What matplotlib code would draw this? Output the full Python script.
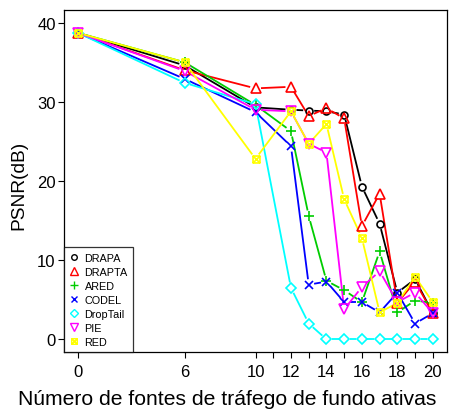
import numpy as np
import matplotlib
matplotlib.use("Agg")
import matplotlib.pyplot as plt
from matplotlib.path import Path
from matplotlib.lines import Line2D

plt.rcParams['font.family'] = ['Liberation Sans', 'DejaVu Sans']

# dados
fontes = [0, 6, 10, 12, 13, 14, 15, 16, 17, 18, 19, 20]
drapa = [38.7, 34.6, 29.3, 29.0, 28.9, 28.8, 28.4, 19.3, 14.6, 5.9, 7.6, 3.3]
drapta = [38.7, 34.0, 31.7, 31.9, 28.2, 29.2, 27.9, 14.3, 18.4, 4.6, 7.3, 3.3]
ared = [38.7, 35.0, 29.6, 26.3, 15.6, 7.4, 6.2, 4.7, 11.1, 3.4, 4.9, 4.6]
codel = [38.7, 32.9, 28.7, 24.4, 6.9, 7.3, 4.7, 4.7, 3.4, 5.9, 2.0, 3.3]
droptail = [38.7, 32.4, 29.7, 6.5, 2.0, 0.0, 0.0, 0.0, 0.0, 0.0, 0.0, 0.0]
pie = [38.7, 33.9, 29.0, 28.8, 24.7, 23.6, 3.8, 6.6, 8.6, 4.7, 5.9, 3.3]
red = [38.7, 35.0, 22.8, 28.8, 24.7, 27.2, 17.7, 12.8, 3.4, 4.6, 7.9, 4.7]

nomes = ['DRAPA', 'DRAPTA', 'ARED', 'CODEL', 'DropTail', 'PIE', 'RED']
series = [drapa, drapta, ared, codel, droptail, pie, red]
cores = ['black', '#FF0000', '#00CD00', '#0000FF', '#00FFFF', '#FF00FF', '#FFFF00']

xticks = [0, 6, 10, 11, 12, 13, 14, 15, 16, 17, 18, 19, 20]
xticklabels = ['0', '6', '10', '', '12', '', '14', '', '16', '', '18', '', '20']

# quadrado com X (pch 7 do R)
box_x = Path([(-1, -1), (1, -1), (1, 1), (-1, 1), (-1, -1), (-1, -1), (1, 1), (-1, 1), (1, -1)],
             [Path.MOVETO, Path.LINETO, Path.LINETO, Path.LINETO, Path.CLOSEPOLY,
              Path.MOVETO, Path.LINETO, Path.MOVETO, Path.LINETO])
marcadores = ['o', '^', '+', 'x', 'D', 'v', box_x]
tamanhos = [5, 6.5, 7, 5.5, 5, 6.5, 5]

fig = plt.figure(figsize=(4.5, 4.14), dpi=100)
ax = fig.add_axes([64 / 450, 1 - 353 / 414, (447 - 64) / 450, (353 - 11) / 414])
ax.set_xlim(-0.8, 20.8)
ax.set_ylim(-1.6, 41.6)

# linhas no estilo type="b" (com espaco em volta dos pontos)
gap = 5.5
for vals, cor in zip(series, cores):
    pts = ax.transData.transform(np.column_stack([fontes, vals]))
    for p0, p1 in zip(pts[:-1], pts[1:]):
        d = p1 - p0
        n = np.hypot(*d)
        if n <= 2 * gap:
            continue
        u = d / n
        a = ax.transData.inverted().transform([p0 + u * gap, p1 - u * gap])
        ax.plot(a[:, 0], a[:, 1], color=cor, lw=1.3, solid_capstyle='butt')

for vals, cor, m, ms in zip(series, cores, marcadores, tamanhos):
    ax.plot(fontes, vals, linestyle='none', marker=m, ms=ms, mfc='none', mec=cor, mew=1.2)

ax.set_xticks(xticks)
ax.set_xticklabels(xticklabels)
ax.set_yticks([0, 10, 20, 30, 40])
ax.tick_params(direction='out', length=4, width=0.8, labelsize=12)
ax.tick_params(axis='x', pad=5)
ax.tick_params(axis='y', pad=2)
for s in ax.spines.values():
    s.set_linewidth(0.9)

ax.set_xlabel('Número de fontes de tráfego de fundo ativas', fontsize=15.2)
ax.xaxis.set_label_coords((227 - 64) / 383, -0.108)
ax.set_ylabel('PSNR(dB)', fontsize=13.8)
ax.yaxis.set_label_coords(-0.095, 0.49)

handles = [Line2D([], [], linestyle='none', marker=m, ms=ms * 0.8, mfc='none', mec=c, mew=1.0)
           for m, ms, c in zip(marcadores, tamanhos, cores)]
leg = ax.legend(handles, nomes, loc='lower left', bbox_to_anchor=(0, 0), borderaxespad=0,
                fontsize=7.8, frameon=True, fancybox=False, edgecolor='black',
                handlelength=0.8, handletextpad=0.6, labelspacing=0.37, borderpad=0.5)
leg.get_frame().set_linewidth(0.9)

fig.savefig('out.png', dpi=100)
